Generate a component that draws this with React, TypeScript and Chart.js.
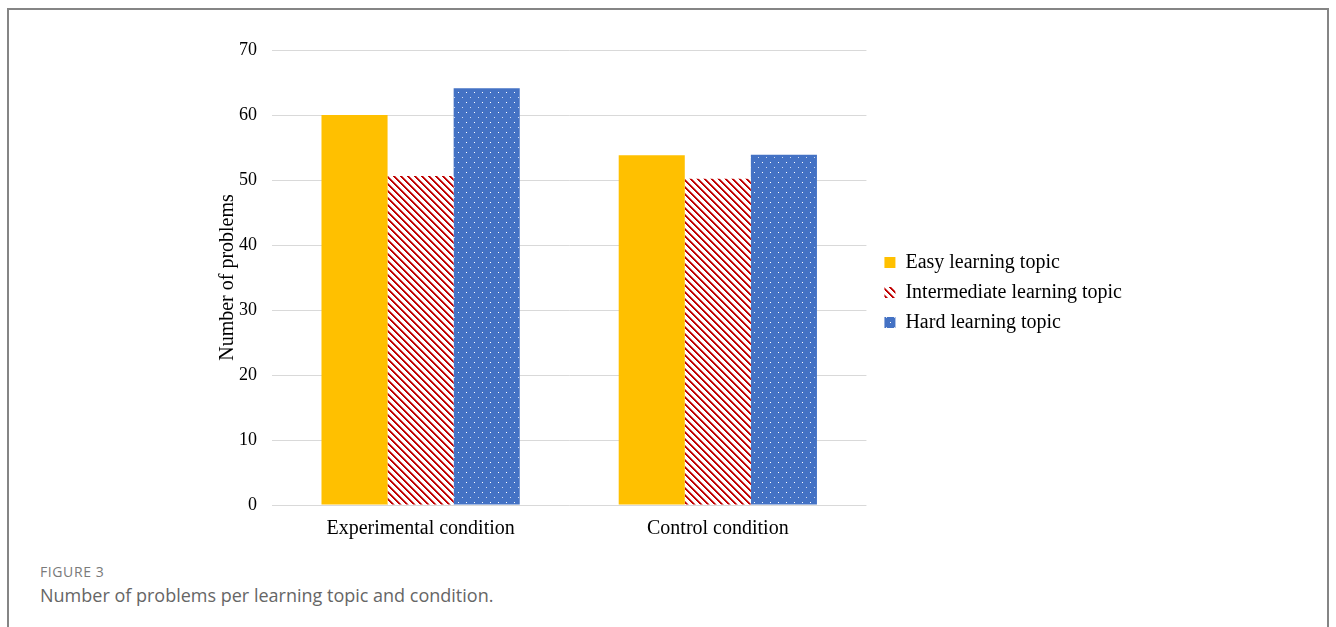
import React, { useEffect, useRef } from "react";
import { Chart, registerables } from "chart.js";

Chart.register(...registerables);

const categories = ["Experimental condition", "Control condition"];
const seriesNames = ["Easy learning topic", "Intermediate learning topic", "Hard learning topic"];
const easyValues = [60, 53.8];
const intermediateValues = [50.6, 50.2];
const hardValues = [64.1, 53.9];
const yTicks = [0, 10, 20, 30, 40, 50, 60, 70];

const SERIF = "'Times New Roman', 'Liberation Serif', serif";
const LEGEND_SHIFT_X = 8;
const LEGEND_SHIFT_Y = -9;

// Red "\" hatching on white
function stripePattern(): CanvasPattern | string {
  const n = 7;
  const c = document.createElement("canvas");
  c.width = n;
  c.height = n;
  const ctx = c.getContext("2d");
  if (!ctx) return "#C00000";
  const img = ctx.createImageData(n, n);
  for (let y = 0; y < n; y++) {
    for (let x = 0; x < n; x++) {
      const i = (y * n + x) * 4;
      const k = (x - y + 10 * n) % n;
      const a = k < 2 ? 1 : k === 2 ? 0.55 : 0;
      img.data[i] = Math.round(255 - a * (255 - 192));
      img.data[i + 1] = Math.round(255 - a * 255);
      img.data[i + 2] = Math.round(255 - a * 255);
      img.data[i + 3] = 255;
    }
  }
  ctx.putImageData(img, 0, 0);
  return ctx.createPattern(c, "repeat") || "#C00000";
}

// Blue fill with a staggered grid of small white dots
function dotPattern(): CanvasPattern | string {
  const c = document.createElement("canvas");
  c.width = 8;
  c.height = 10;
  const ctx = c.getContext("2d");
  if (!ctx) return "#4472C4";
  ctx.fillStyle = "#4472C4";
  ctx.fillRect(0, 0, 8, 10);
  ctx.fillStyle = "rgba(255,255,255,1)";
  ctx.fillRect(2, 2, 1, 1);
  ctx.fillStyle = "rgba(255,255,255,0.75)";
  ctx.fillRect(6, 7, 1, 1);
  return ctx.createPattern(c, "repeat") || "#4472C4";
}

const legendNudge = {
  id: "legendNudge",
  afterLayout(chart: any) {
    const lg = chart.legend;
    if (lg) {
      lg.left += LEGEND_SHIFT_X;
      lg.right += LEGEND_SHIFT_X;
      lg.top += LEGEND_SHIFT_Y;
      lg.bottom += LEGEND_SHIFT_Y;
    }
  },
};

export default function App() {
  const ref = useRef<HTMLCanvasElement | null>(null);

  useEffect(() => {
    if (!ref.current) return;
    const chart = new Chart(ref.current, {
      type: "bar",
      data: {
        labels: categories,
        datasets: [
          { label: seriesNames[0], data: easyValues, backgroundColor: "#FFC000", borderWidth: 0 },
          { label: seriesNames[1], data: intermediateValues, backgroundColor: stripePattern(), borderWidth: 0 },
          { label: seriesNames[2], data: hardValues, backgroundColor: dotPattern(), borderWidth: 0 },
        ],
      },
      options: {
        animation: false,
        responsive: false,
        layout: { padding: { left: 216, top: 50, right: 212, bottom: 0 } },
        datasets: { bar: { categoryPercentage: 0.667, barPercentage: 1 } },
        plugins: {
          title: { display: false },
          tooltip: { enabled: false },
          legend: {
            position: "right",
            maxWidth: 400,
            labels: {
              boxWidth: 11,
              boxHeight: 11,
              padding: 10,
              color: "#000",
              font: { family: SERIF, size: 20 },
            },
          },
        },
        scales: {
          x: {
            grid: { display: false, drawTicks: false },
            border: { display: false },
            ticks: { color: "#000", font: { family: SERIF, size: 20 }, padding: 12 },
          },
          y: {
            min: 0,
            max: 70,
            afterFit: (s: any) => {
              s.width = 56;
            },
            afterBuildTicks: (s: any) => {
              s.ticks = yTicks.map((v) => ({ value: v }));
            },
            grid: { color: "#D9D9D9", lineWidth: 1, drawTicks: false },
            border: { display: false },
            ticks: { color: "#000", font: { family: SERIF, size: 18 }, padding: 15 },
            title: {
              display: true,
              text: "Number of problems",
              color: "#000",
              font: { family: SERIF, size: 20 },
              padding: { top: 0, bottom: 0 },
            },
          },
        },
      },
      plugins: [legendNudge],
    });
    return () => chart.destroy();
  }, []);

  return (
    <div>
      <div
        style={{
          position: "absolute",
          left: 7,
          top: 8,
          width: 1322,
          height: 619,
          boxSizing: "border-box",
          borderLeft: "2px solid #858585",
          borderTop: "2px solid #858585",
          borderRight: "2px solid #858585",
        }}
      />
      <canvas
        ref={ref}
        width={1336}
        height={553}
        style={{ position: "absolute", left: 0, top: 0, width: 1336, height: 553 }}
      />
      <div
        style={{
          position: "absolute",
          left: 40,
          top: 563,
          fontFamily: "'Open Sans', Lato, sans-serif",
          fontSize: 14,
          letterSpacing: 0.6,
          color: "#7a7a7a",
          lineHeight: "18px",
        }}
      >
        FIGURE 3
      </div>
      <div
        style={{
          position: "absolute",
          left: 40,
          top: 583,
          fontFamily: "'Open Sans', Lato, sans-serif",
          fontSize: 18,
          color: "#666",
          lineHeight: "24px",
        }}
      >
        Number of problems per learning topic and condition.
      </div>
    </div>
  );
}
